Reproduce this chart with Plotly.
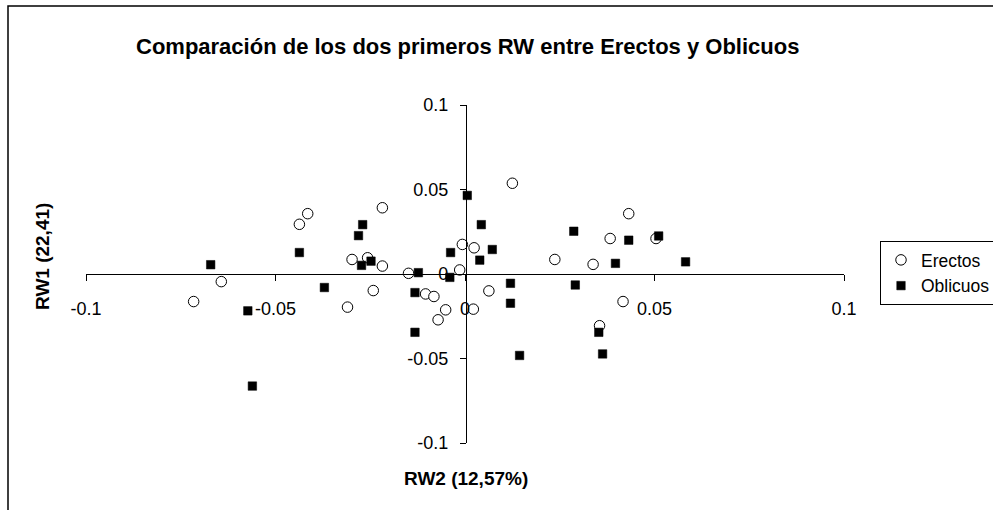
import plotly.graph_objects as go

W, H = 993, 510

erectos_x = [-0.0716, -0.0643, -0.0437, -0.0415, -0.0218, -0.0298, -0.0257, -0.0218, -0.0242, -0.0310,
             -0.0149, -0.0104, -0.0082, -0.0051, -0.0071, -0.0014, -0.0007, 0.0024, 0.0022, 0.0125,
             0.0063, 0.0237, 0.0338, 0.0383, 0.0432, 0.0504, 0.0417, 0.0355]
erectos_y = [-0.0163, -0.0045, 0.0294, 0.0357, 0.0392, 0.0086, 0.0096, 0.0047, -0.0098, -0.0196,
             0.0004, -0.0118, -0.0133, -0.0212, -0.0271, 0.0024, 0.0175, 0.0155, -0.0208, 0.0537,
             -0.0100, 0.0086, 0.0057, 0.0210, 0.0357, 0.0210, -0.0163, -0.0306]

oblicuos_x = [-0.0671, -0.0573, -0.0561, -0.0437, -0.0371, -0.0270, -0.0281, -0.0273, -0.0248, -0.0123,
              -0.0132, -0.0132, -0.0040, -0.0038, 0.0006, 0.0043, 0.0072, 0.0039, 0.0120, 0.0120,
              0.0144, 0.0287, 0.0291, 0.0397, 0.0432, 0.0511, 0.0582, 0.0353, 0.0363]
oblicuos_y = [0.0055, -0.0218, -0.0663, 0.0127, -0.0080, 0.0292, 0.0227, 0.0051, 0.0076, 0.0008,
              -0.0110, -0.0345, -0.0020, 0.0127, 0.0465, 0.0292, 0.0145, 0.0082, -0.0055, -0.0173,
              -0.0482, 0.0253, -0.0065, 0.0063, 0.0200, 0.0225, 0.0072, -0.0345, -0.0473]

tick_vals = [-0.1, -0.05, 0, 0.05, 0.1]
tick_text = ["-0.1", "-0.05", "0", "0.05", "0.1"]

title_text = "Comparación de los dos primeros RW entre Erectos y Oblicuos"
xtitle = "RW2 (12,57%)"
ytitle = "RW1 (22,41)"

FONT = "Liberation Sans, Arial, sans-serif"

def px_x(p):
    return p / W

def px_y(p):
    return 1 - p / H

fig = go.Figure()
fig.add_trace(go.Scatter(
    x=erectos_x, y=erectos_y, mode="markers", name="Erectos",
    marker=dict(symbol="circle", size=10.5, color="white", line=dict(color="black", width=1)),
))
fig.add_trace(go.Scatter(
    x=oblicuos_x, y=oblicuos_y, mode="markers", name="Oblicuos",
    marker=dict(symbol="square", size=8.5, color="black", line=dict(color="black", width=0.5)),
))

x_left, x_right = 86, 844
y_top, y_bot = 105, 443

fig.update_layout(
    width=W, height=H,
    margin=dict(l=0, r=0, t=0, b=0, pad=0, autoexpand=False),
    paper_bgcolor="white", plot_bgcolor="white",
    font=dict(family=FONT, size=17, color="black"),
    showlegend=True,
    legend=dict(
        x=px_x(880), y=px_y(241), xanchor="left", yanchor="top",
        bordercolor="black", borderwidth=1, bgcolor="white",
        font=dict(family=FONT, size=17.5, color="black"),
        itemsizing="trace", tracegroupgap=0,
    ),
    xaxis=dict(
        domain=[px_x(x_left), px_x(x_right)], range=[-0.1, 0.1],
        anchor="free", position=px_y(274),
        showline=True, linecolor="black", linewidth=1.2,
        ticks="outside", ticklen=6, tickwidth=1.2, tickcolor="black",
        tickvals=tick_vals, ticktext=tick_text,
        showgrid=False, zeroline=False, ticklabelstandoff=12,
        tickfont=dict(family=FONT, size=18, color="black"),
    ),
    yaxis=dict(
        domain=[px_y(y_bot), px_y(y_top)], range=[-0.1, 0.1],
        anchor="free", position=px_x(466),
        showline=True, linecolor="black", linewidth=1.2,
        ticks="outside", ticklen=6, tickwidth=1.2, tickcolor="black",
        tickvals=tick_vals, ticktext=tick_text,
        showgrid=False, zeroline=False, ticklabelstandoff=8,
        tickfont=dict(family=FONT, size=18, color="black"),
    ),
    shapes=[dict(type="rect", xref="paper", yref="paper",
                 x0=px_x(8), x1=px_x(1010), y0=px_y(6), y1=px_y(530),
                 line=dict(color="black", width=1.5), fillcolor="rgba(0,0,0,0)", layer="below")],
    annotations=[
        dict(text="<b>" + title_text + "</b>", xref="paper", yref="paper",
             x=px_x(467), y=px_y(46), xanchor="center", yanchor="middle",
             showarrow=False, font=dict(family=FONT, size=22, color="black")),
        dict(text="<b>" + xtitle + "</b>", xref="paper", yref="paper",
             x=px_x(466), y=px_y(478), xanchor="center", yanchor="middle",
             showarrow=False, font=dict(family=FONT, size=19, color="black")),
        dict(text="<b>" + ytitle + "</b>", xref="paper", yref="paper",
             x=px_x(42), y=px_y(257), xanchor="center", yanchor="middle",
             textangle=-90, showarrow=False, font=dict(family=FONT, size=19, color="black")),
    ],
)

fig.write_html("out.html")
